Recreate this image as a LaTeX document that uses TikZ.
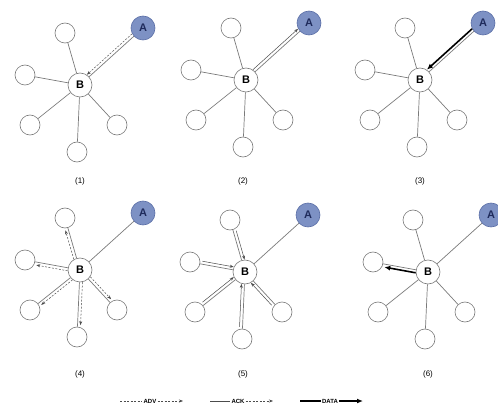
\documentclass[tikz,border=0pt]{standalone}
\usepackage{fontspec}
\setmainfont{Liberation Sans}
\usetikzlibrary{calc,arrows.meta}

\definecolor{srcfill}{HTML}{7D91C4}
\definecolor{srcline}{HTML}{5A6EA6}
\definecolor{srctext}{HTML}{1F2B5C}
\definecolor{linkgray}{HTML}{7A7A7A}

\tikzset{
  sat/.style={circle, draw=linkgray, fill=white, line width=0.6pt, minimum size=20pt, inner sep=0pt},
  hub/.style={circle, draw=linkgray, fill=white, line width=0.6pt, minimum size=24pt, inner sep=0pt,
    font=\fontsize{11}{12}\selectfont\bfseries},
  src/.style={circle, draw=srcline, fill=srcfill, line width=0.6pt, minimum size=24pt, inner sep=0pt,
    text=srctext, font=\fontsize{11}{12}\selectfont\bfseries},
  link/.style={linkgray, line width=0.7pt},
  adv/.style={black!70, line width=0.5pt, dash pattern=on 2pt off 1.5pt, -{Stealth[length=4pt,width=3pt]}},
  ack/.style={black!70, line width=0.5pt, -{Stealth[length=4pt,width=3pt]}},
  data/.style={black, line width=1.6pt, -{Latex[length=6pt,width=5pt]}},
  caption/.style={font=\fontsize{8}{9}\selectfont},
  legend/.style={fill=white, inner sep=1pt, font=\fontsize{6}{7}\selectfont\bfseries},
}

% message drawn beside a link, #4 = side offset
\newcommand{\sendmsg}[4][]{%
  \draw[#1, shorten <=12pt, shorten >=12pt]
    ($(#2)!#4!90:(#3)$) -- ($(#3)!#4!-90:(#2)$);}

\begin{document}
\begin{tikzpicture}[x=1pt, y=1pt]
    \useasboundingbox (0,0) rectangle (498,-409);

    % Six copies of the star, B in the middle
    \foreach \p/\x/\y in {1/80/-85, 2/246/-80, 3/420/-80, 4/80/-270, 5/245/-272, 6/428/-272} {
        \node[hub] (B\p) at (\x,\y) {B};
        \node[src] (A\p) at ($(B\p)+(63,57)$) {A};
        \foreach \s/\dx/\dy in {1/-15/52, 2/-55/10, 3/-50/-40, 4/-3/-67, 5/37/-40} {
            \node[sat] (S\p-\s) at ($(B\p)+(\dx,\dy)$) {};
            \draw[link] (B\p) -- (S\p-\s);
        }
        \draw[link] (B\p) -- (A\p);
    }

    % (1) A advertises to B
    \sendmsg[adv]{A1}{B1}{-3pt}
    % (2) B acknowledges
    \sendmsg[ack]{B2}{A2}{3pt}
    % (3) A sends the data
    \sendmsg[data]{A3}{B3}{-3pt}
    % (4) B advertises to its neighbours
    \foreach \s in {1,...,5} { \sendmsg[adv]{B4}{S4-\s}{3pt} }
    % (5) neighbours acknowledge
    \foreach \s in {1,...,5} { \sendmsg[ack]{S5-\s}{B5}{3pt} }
    % (6) B sends the data on
    \sendmsg[data]{B6}{S6-2}{3pt}

    % Captions
    \node[caption] (c1) at (80,-181) {(1)};
    \node[caption] (c2) at (243,-181) {(2)};
    \node[caption] (c3) at (420,-181) {(3)};
    \node[caption] (c4) at (80,-374) {(4)};
    \node[caption] (c5) at (243,-374) {(5)};
    \node[caption] (c6) at (428,-374) {(6)};

    % Legend
    \coordinate (advS) at (120,-401);
    \node[legend] (advT) at (150,-401) {ADV};
    \coordinate (advE) at (183,-401);
    \draw[adv, -] (advS) -- (advT);
    \draw[adv] (advT) -- (advE);

    \coordinate (ackS) at (210,-401);
    \node[legend] (ackT) at (238,-401) {ACK};
    \coordinate (ackE) at (273,-401);
    \draw[ack, -] (ackS) -- (ackT);
    \draw[adv] (ackT) -- (ackE);

    \coordinate (datS) at (300,-401);
    \node[legend] (datT) at (330,-401) {DATA};
    \coordinate (datE) at (363,-401);
    \draw[black, line width=1.2pt] (datS) -- (datT);
    \draw[data, line width=1.2pt] (datT) -- (datE);
\end{tikzpicture}
\end{document}
